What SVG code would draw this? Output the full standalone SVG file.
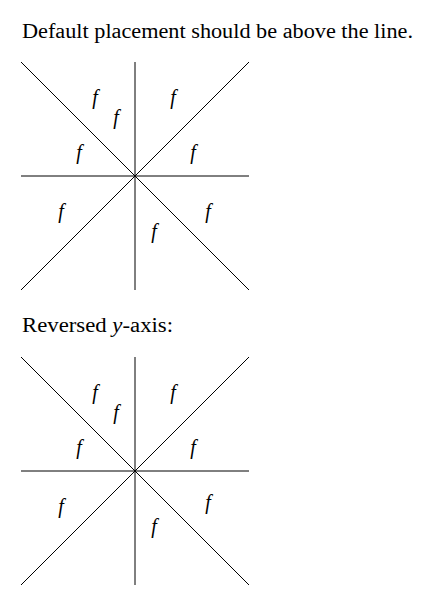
<svg xmlns="http://www.w3.org/2000/svg" width="437" height="606" viewBox="0 0 437 606">
<style>
.t{font-family:"Liberation Serif",serif;font-size:20px;fill:#000}
.f{font-family:"Liberation Serif",serif;font-style:italic;font-size:20px;fill:#000;text-anchor:middle}
.l{stroke:#000;stroke-width:1;fill:none}
</style>
<rect width="437" height="606" fill="#fff"/>
<text class="t" x="22" y="38" textLength="391" lengthAdjust="spacingAndGlyphs">Default placement should be above the line.</text>
<g id="connectors1">
<line class="l" x1="135" y1="62" x2="135" y2="290"/>
<line class="l" x1="21" y1="176" x2="249" y2="176"/>
<line class="l" x1="21" y1="62" x2="249" y2="290"/>
<line class="l" x1="21" y1="290" x2="249" y2="62"/>
</g>
<g id="labels1">
<text class="f" x="95" y="104">f</text>
<text class="f" x="116" y="124">f</text>
<text class="f" x="79" y="159">f</text>
<text class="f" x="173" y="104">f</text>
<text class="f" x="193" y="159">f</text>
<text class="f" x="61" y="218">f</text>
<text class="f" x="208" y="218">f</text>
<text class="f" x="154" y="238">f</text>
</g>
<text class="t" x="22" y="332" textLength="151" lengthAdjust="spacingAndGlyphs">Reversed <tspan font-style="italic">y</tspan>-axis:</text>
<g id="connectors2">
<line class="l" x1="135" y1="357" x2="135" y2="585"/>
<line class="l" x1="21" y1="471" x2="249" y2="471"/>
<line class="l" x1="21" y1="357" x2="249" y2="585"/>
<line class="l" x1="21" y1="585" x2="249" y2="357"/>
</g>
<g id="labels2">
<text class="f" x="95" y="399">f</text>
<text class="f" x="116" y="419">f</text>
<text class="f" x="79" y="454">f</text>
<text class="f" x="173" y="399">f</text>
<text class="f" x="193" y="454">f</text>
<text class="f" x="61" y="513">f</text>
<text class="f" x="208" y="509">f</text>
<text class="f" x="154" y="533">f</text>
</g>
</svg>
